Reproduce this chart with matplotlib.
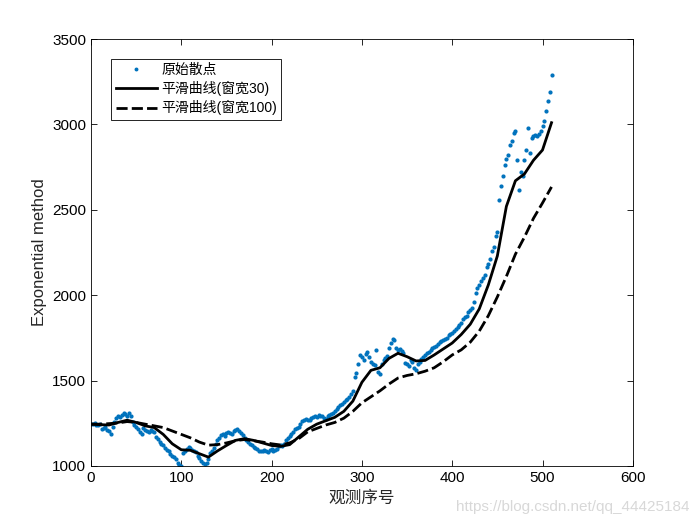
import numpy as np
import matplotlib
matplotlib.use('Agg')
import matplotlib.pyplot as plt

plt.rcParams['font.family'] = ['Liberation Sans', 'Noto Sans CJK SC']

# --- datos (un punto cada 2 observaciones) ---
scatter_y = [
    1248, 1245, 1252, 1240, 1238, 1245, 1215, 1222, 1230, 1210, 1205,
    1190, 1228, 1255, 1280, 1290, 1285, 1300, 1310, 1305, 1295, 1312, 1290,
    1260, 1240, 1230, 1215, 1200, 1190, 1222, 1210, 1205, 1200, 1212, 1205, 1200,
    1170, 1160, 1140, 1130, 1120, 1105, 1095, 1085, 1070, 1060, 1050, 1040, 1020, 1005, 1000,
    1075, 1090, 1100, 1110, 1105, 1095, 1090, 1080, 1060, 1045, 1030, 1015, 1010, 1020, 1040,
    1075, 1090, 1105, 1130, 1150, 1165, 1180, 1190, 1175, 1195, 1200, 1195, 1190, 1205, 1210,
    1215, 1205, 1195, 1180,
    1165, 1150, 1140, 1130, 1125, 1110, 1105, 1100, 1090, 1085, 1090, 1095, 1085, 1080, 1095,
    1100, 1090, 1095, 1100, 1115, 1120,
    1115, 1130, 1150, 1165, 1175, 1190, 1200, 1215, 1225, 1230,
    1245, 1265, 1270, 1275, 1272, 1268, 1280, 1285, 1290, 1285,
    1300, 1295, 1290, 1280, 1278, 1290, 1300, 1305, 1310, 1320,
    1335, 1345, 1355, 1365, 1375, 1385, 1395, 1405, 1420, 1440,
    1520, 1545, 1600, 1650, 1640, 1620, 1655, 1665, 1640, 1610,
    1600, 1590, 1680, 1550, 1540, 1600, 1620, 1630, 1645, 1690,
    1720, 1745, 1735, 1690, 1680, 1685, 1675, 1660, 1605, 1595,
    1585, 1620, 1610, 1575, 1560, 1600, 1610, 1625, 1640, 1650,
    1660, 1670, 1680, 1690, 1695, 1705, 1715, 1725, 1730, 1740,
    1745, 1750, 1765, 1775, 1780, 1790, 1805, 1815, 1825, 1840,
    1860, 1875, 1880, 1900, 1915, 1925, 1960, 2010, 2040, 2060,
    2085, 2100, 2120, 2165, 2180, 2210, 2260, 2280, 2345, 2370,
    2560, 2640, 2700, 2760, 2800, 2820, 2880, 2900, 2950, 2960,
    2790, 2615, 2720, 2700, 2790, 2850, 2980, 2830, 2920, 2935,
    2940, 2930, 2945, 2960, 2990, 3020, 3080, 3135, 3190, 3290,
]
scatter_x = list(range(0, 2 * len(scatter_y), 2))

smooth_x = list(range(0, 511, 10))
smooth30 = [
    1245, 1242, 1240, 1255, 1268, 1255, 1235, 1225, 1185, 1130,
    1095, 1092, 1072, 1052, 1088, 1120, 1150, 1160, 1150, 1135,
    1120, 1115, 1125, 1170, 1215, 1245, 1265, 1285, 1320, 1380,
    1490, 1560, 1575, 1630, 1660, 1640, 1615, 1618, 1650, 1685,
    1720, 1770, 1830, 1920, 2060, 2230, 2520, 2670, 2710, 2790,
    2850, 3010,
]
smooth100 = [
    1245, 1245, 1248, 1252, 1260, 1255, 1245, 1235, 1225, 1205,
    1185, 1165, 1140, 1122, 1125, 1135, 1148, 1155, 1148, 1140,
    1130, 1123, 1135, 1160, 1200, 1220, 1240, 1255, 1280, 1320,
    1370, 1405, 1440, 1480, 1515, 1530, 1540, 1555, 1575, 1610,
    1650, 1680, 1725, 1790, 1880, 1990, 2110, 2240, 2340, 2450,
    2540, 2634,
]

labels = ['原始散点', '平滑曲线(窗宽30)', '平滑曲线(窗宽100)']

# --- figura ---
fig = plt.figure(figsize=(7, 5.25), dpi=100)
ax = fig.add_axes([0.13, 0.1124, 0.774, 0.8133])

ax.plot(scatter_x, scatter_y, '.', color='#0072BD', markersize=4, label=labels[0])
ax.plot(smooth_x, smooth30, '-', color='black', linewidth=2, label=labels[1])
ax.plot(smooth_x, smooth100, color='black', linewidth=2,
        linestyle=(0, (4, 1.5)), label=labels[2])

ax.set_xlim(0, 600)
ax.set_ylim(1000, 3500)
ax.set_xticks(range(0, 601, 100))
ax.set_yticks(range(1000, 3501, 500))
ax.tick_params(direction='in', top=True, right=True, labelsize=11, length=4, width=0.6)
for s in ax.spines.values():
    s.set_linewidth(0.6)

ax.set_xlabel('观测序号', fontsize=12, color='#262626')
ax.set_ylabel('Exponential method', fontsize=12, color='#262626')

leg = ax.legend(loc='upper left', bbox_to_anchor=(0.025, 0.97), fontsize=10,
                fancybox=False, framealpha=1, edgecolor='black',
                handlelength=3, borderpad=0.3, labelspacing=0.3,
                handletextpad=0.3, markerscale=0.9)
leg.get_frame().set_linewidth(0.6)

fig.text(0.985, 0.02, 'https://blog.csdn.net/qq_44425184', ha='right', va='bottom',
         fontsize=11, color='#d8d8d8')

fig.savefig('out.png', dpi=100)
